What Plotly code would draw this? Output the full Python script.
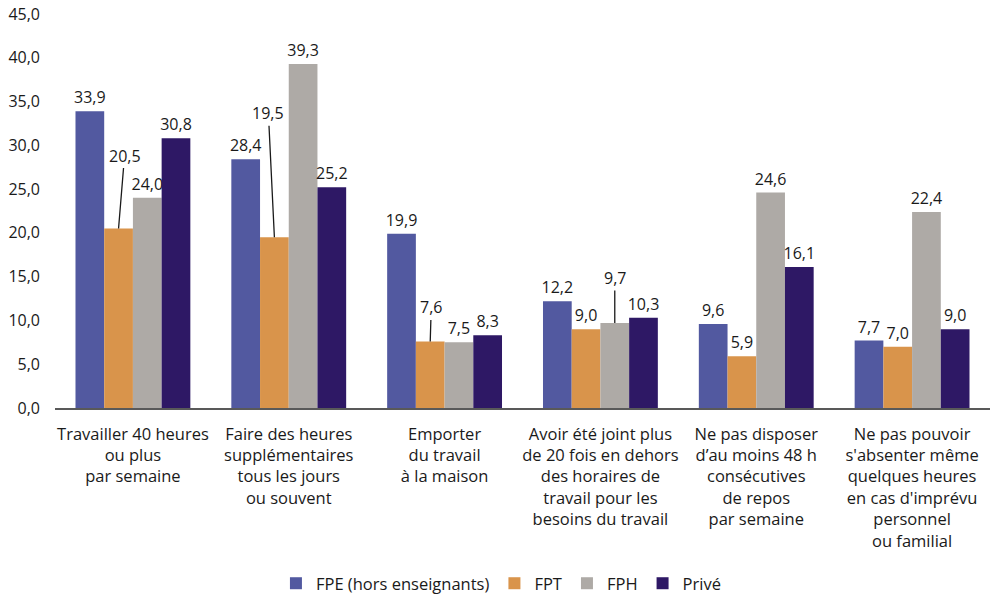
import plotly.graph_objects as go

# Categories (x-axis labels, line breaks as displayed)
categories = [
    "Travailler 40 heures<br>ou plus<br>par semaine",
    "Faire des heures<br>supplémentaires<br>tous les jours<br>ou souvent",
    "Emporter<br>du travail<br>à la maison",
    "Avoir été joint plus<br>de 20 fois en dehors<br>des horaires de<br>travail pour les<br>besoins du travail",
    "Ne pas disposer<br>d’au moins 48 h<br>consécutives<br>de repos<br>par semaine",
    "Ne pas pouvoir<br>s'absenter même<br>quelques heures<br>en cas d'imprévu<br>personnel<br>ou familial",
]

series_names = ["FPE (hors enseignants)", "FPT", "FPH", "Privé"]
fpe = [33.9, 28.4, 19.9, 12.2, 9.6, 7.7]
fpt = [20.5, 19.5, 7.6, 9.0, 5.9, 7.0]
fph = [24.0, 39.3, 7.5, 9.7, 24.6, 22.4]
prive = [30.8, 25.2, 8.3, 10.3, 16.1, 9.0]
series_values = [fpe, fpt, fph, prive]
colors = ["#5259a0", "#d9944b", "#aeaaa6", "#2e1865"]

y_ticks = [0, 5, 10, 15, 20, 25, 30, 35, 40, 45]

# Labels drawn with a leader line: (series index, category index, dx px, dy px)
leader_labels = [(1, 0, 6, -73), (1, 1, -6, -124), (1, 2, 1, -34), (2, 3, 0, -45)]
leader_set = {(s, c) for s, c, _, _ in leader_labels}

BARGAP = 0.263
n_series = len(series_names)
bar_w = (1 - BARGAP) / n_series


def fmt(v):
    return f"{v:.1f}".replace(".", ",")


x_idx = list(range(len(categories)))

fig = go.Figure()
for s, (name, vals, col) in enumerate(zip(series_names, series_values, colors)):
    texts = ["" if (s, c) in leader_set else fmt(v) for c, v in enumerate(vals)]
    fig.add_trace(go.Bar(
        name=name,
        x=x_idx,
        y=vals,
        marker=dict(color=col, line=dict(width=0)),
        text=texts,
        textposition="outside",
        constraintext="none",
        textfont=dict(size=16, color="#1a1a1a"),
        cliponaxis=False,
    ))

for s, c, dx, dy in leader_labels:
    offset = (s - (n_series - 1) / 2) * bar_w
    fig.add_annotation(
        x=c + offset, y=series_values[s][c],
        xref="x", yref="y",
        text=fmt(series_values[s][c]),
        showarrow=True, arrowhead=0, arrowwidth=1.3, arrowcolor="#1a1a1a",
        ax=dx, ay=dy, standoff=0,
        font=dict(size=16, color="#1a1a1a"),
    )

fig.update_layout(
    width=990, height=601,
    margin=dict(l=55, r=0, t=14, b=193),
    paper_bgcolor="white", plot_bgcolor="white",
    barmode="group", bargap=BARGAP, bargroupgap=0,
    font=dict(family="Open Sans", size=16, color="#1a1a1a"),
    separators=",.",
    showlegend=True,
    legend=dict(
        orientation="h", xref="container", yref="container",
        x=0.506, xanchor="center", y=0.0, yanchor="bottom",
        font=dict(size=16.5), traceorder="normal",
    ),
    xaxis=dict(
        tickmode="array", tickvals=x_idx, ticktext=categories,
        range=[-0.5, len(categories) - 0.5],
        showline=True, linecolor="#595959", linewidth=1.5,
        showgrid=False, zeroline=False, ticks="",
        ticklabelstandoff=10,
        tickfont=dict(size=16.5), tickangle=0,
    ),
    yaxis=dict(
        range=[0, 45], tickvals=y_ticks, tickformat=".1f",
        showgrid=False, zeroline=False, showline=False,
        ticks="", ticklabelstandoff=14,
        tickfont=dict(size=16),
    ),
)

fig.write_html("out.html")
